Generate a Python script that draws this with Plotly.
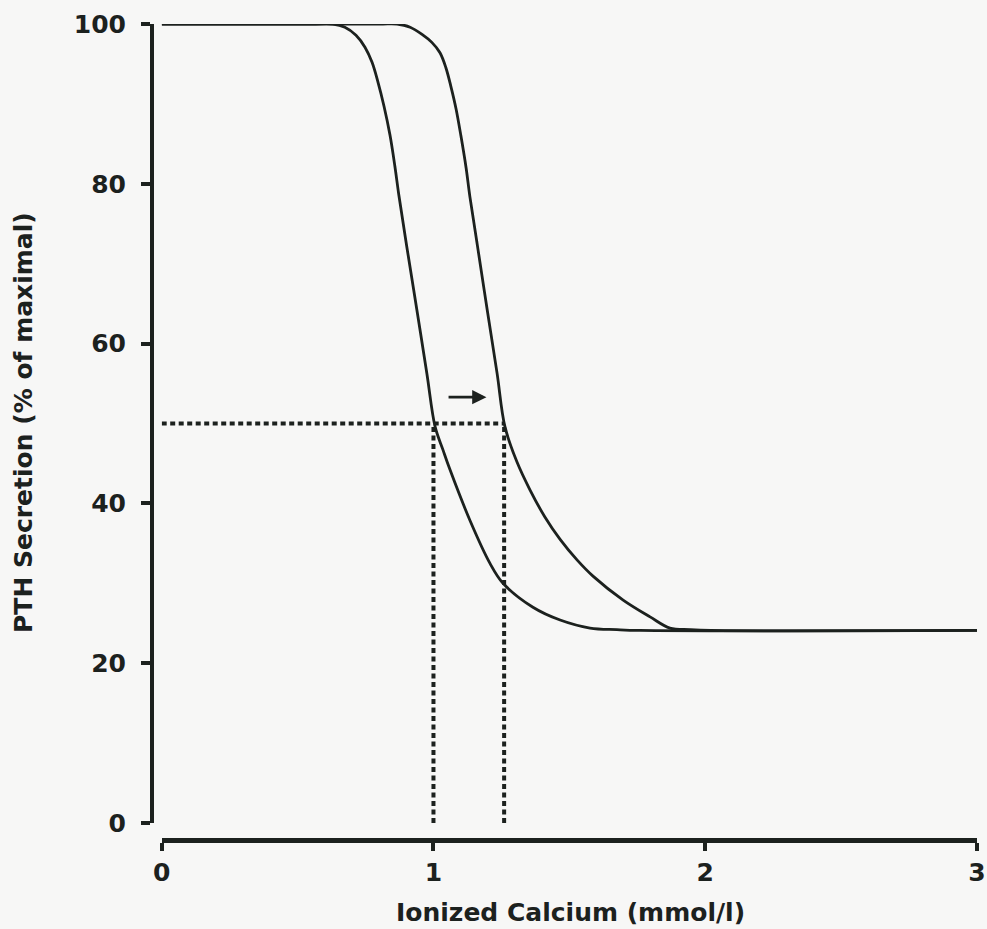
import plotly.graph_objects as go

# ---- data ----
# Normal curve (left)
curve_a_x = [0.0, 0.55, 0.630, 0.674, 0.715, 0.748, 0.774, 0.796, 0.818, 0.840, 0.858, 0.873,
             0.902, 0.939, 0.976, 1.006, 1.035, 1.061, 1.134, 1.208, 1.256, 1.366, 1.466,
             1.576, 1.675, 1.76, 3.0]
curve_a_y = [100, 100, 100, 99.6, 98.6, 97.1, 95.2, 92.7, 89.7, 86.1, 82.2, 78.5,
             72.1, 64.2, 56.2, 49.6, 46.7, 44.2, 37.9, 32.5, 30.0, 27.0, 25.4,
             24.4, 24.2, 24.1, 24.1]
# Shifted curve (right)
curve_b_x = [0.0, 0.80, 0.866, 0.914, 0.958, 0.994, 1.024, 1.046, 1.064, 1.083, 1.101, 1.120,
             1.134, 1.162, 1.197, 1.234, 1.263, 1.307, 1.355, 1.410, 1.466, 1.529, 1.587,
             1.698, 1.797, 1.870, 1.944, 2.02, 3.0]
curve_b_y = [100, 100, 100, 99.6, 98.7, 97.7, 96.4, 94.5, 92.2, 89.4, 86.0, 82.0,
             78.4, 72.2, 64.4, 56.3, 49.6, 45.2, 41.7, 38.3, 35.5, 32.9, 30.9,
             27.9, 25.8, 24.4, 24.2, 24.1, 24.1]

set_point_level = 50          # % of maximal
set_point_a = 1.0             # mmol/l
set_point_b = 1.26            # mmol/l
arrow_start = 1.05
arrow_end = 1.195
arrow_level = 53.3

x_ticks = [0, 1, 2, 3]
y_ticks = [0, 20, 40, 60, 80, 100]
x_title = "Ionized Calcium (mmol/l)"
y_title = "PTH Secretion (% of maximal)"

INK = "#1c211e"
BG = "#f7f7f6"
FONT = "DejaVu Sans"
W, H = 987, 929

fig = go.Figure()

# dotted guide lines
dot = dict(color=INK, width=4, dash="5px,3.5px")
fig.add_trace(go.Scatter(x=[0, set_point_b], y=[set_point_level, set_point_level], mode="lines",
                         line=dot, hoverinfo="skip"))
fig.add_trace(go.Scatter(x=[set_point_a, set_point_a], y=[0, set_point_level], mode="lines",
                         line=dot, hoverinfo="skip"))
fig.add_trace(go.Scatter(x=[set_point_b, set_point_b], y=[0, set_point_level], mode="lines",
                         line=dot, hoverinfo="skip"))

# curves
fig.add_trace(go.Scatter(x=curve_a_x, y=curve_a_y, mode="lines",
                         line=dict(color=INK, width=2.8, shape="spline", smoothing=1.0)))
fig.add_trace(go.Scatter(x=curve_b_x, y=curve_b_y, mode="lines",
                         line=dict(color=INK, width=2.8, shape="spline", smoothing=1.0)))

# arrow
fig.add_annotation(x=arrow_end, y=arrow_level, ax=arrow_start, ay=arrow_level,
                   xref="x", yref="y", axref="x", ayref="y", text="", showarrow=True,
                   arrowhead=2, arrowsize=1.1, arrowwidth=2.6, arrowcolor=INK)

# axis titles
fig.add_annotation(text=y_title, xref="paper", yref="paper", x=23 / W, y=(H - 423) / H,
                   xanchor="center", yanchor="middle", textangle=-90, showarrow=False,
                   font=dict(family=FONT, size=25, color=INK, weight="bold"))
fig.add_annotation(text=x_title, xref="paper", yref="paper", x=570 / W, y=(H - 912) / H,
                   xanchor="center", yanchor="middle", showarrow=False,
                   font=dict(family=FONT, size=25, color=INK, weight="bold"))

tickfont = dict(family=FONT, size=25, color=INK, weight="bold")

fig.update_layout(
    width=W, height=H,
    margin=dict(l=0, r=0, t=0, b=0, pad=0),
    paper_bgcolor=BG, plot_bgcolor=BG,
    showlegend=False,
    xaxis=dict(domain=[161.7 / W, 977 / W], range=[0, 3], anchor="free", position=(H - 840) / H,
               automargin=False,
               showline=True, linewidth=4.5, linecolor=INK, ticks="outside", ticklen=8, tickwidth=4,
               tickcolor=INK, tickvals=x_ticks, ticktext=[str(v) for v in x_ticks], tickfont=tickfont,
               ticklabelstandoff=0, showgrid=False, zeroline=False),
    yaxis=dict(domain=[(H - 823) / H, (H - 24) / H], range=[0, 100], anchor="free", position=152 / W,
               automargin=False,
               showline=True, linewidth=4, linecolor=INK, ticks="outside", ticklen=9, tickwidth=4,
               tickcolor=INK, tickvals=y_ticks, ticktext=[str(v) for v in y_ticks], tickfont=tickfont,
               ticklabelstandoff=10, showgrid=False, zeroline=False),
)

fig.write_html("out.html")
